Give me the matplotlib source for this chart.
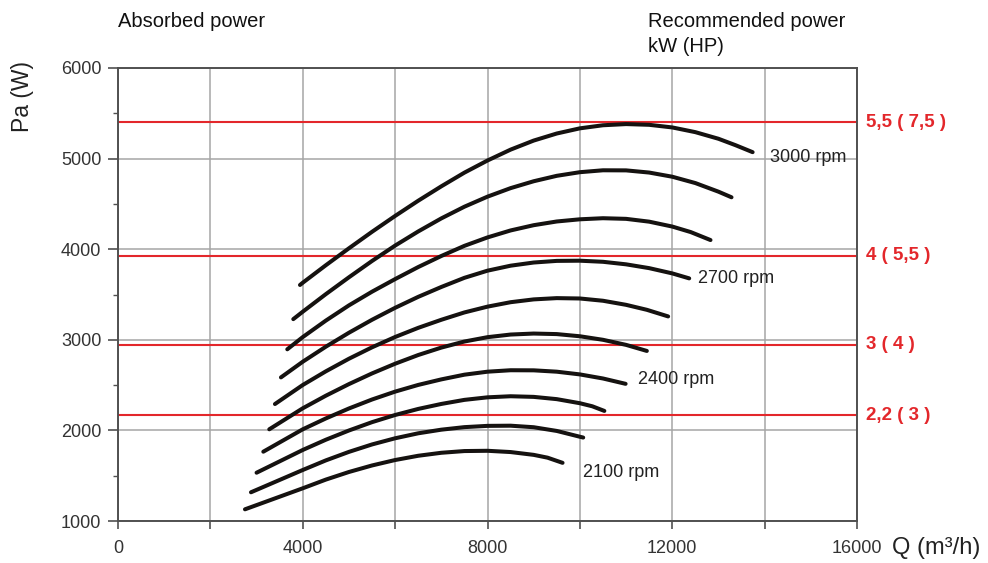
import matplotlib
matplotlib.use("Agg")
import matplotlib.pyplot as plt
from matplotlib.ticker import MultipleLocator

plt.rcParams['font.family'] = ['Liberation Sans', 'DejaVu Sans']

# fan curves, Q (m3/h) vs absorbed power (top curve = 3000 rpm)
q_c1 = [3940, 4000, 4500, 5000, 5500, 6000, 6500, 7000, 7500, 8000, 8500, 9000, 9500,
        10000, 10500, 11000, 11500, 12000, 12500, 13000, 13370, 13740]
p_c1 = [3605, 3630, 3823, 4010, 4192, 4367, 4535, 4694, 4845, 4979, 5099, 5199, 5277,
        5334, 5368, 5381, 5373, 5344, 5292, 5219, 5148, 5071]
q_c2 = [3795, 4000, 4500, 5000, 5500, 6000, 6500, 7000, 7500, 8000, 8500, 9000, 9500,
        10000, 10500, 11000, 11500, 12000, 12500, 13000, 13283]
p_c2 = [3228, 3310, 3504, 3690, 3870, 4040, 4196, 4340, 4469, 4580, 4674, 4750, 4810,
        4850, 4871, 4870, 4846, 4800, 4730, 4635, 4573]
q_c3 = [3665, 4000, 4500, 5000, 5500, 6000, 6500, 7000, 7500, 8000, 8500, 9000, 9500,
        10000, 10500, 11000, 11500, 12000, 12400, 12828]
p_c3 = [2895, 3030, 3212, 3380, 3531, 3670, 3803, 3925, 4037, 4130, 4207, 4265, 4306,
        4330, 4342, 4335, 4304, 4250, 4189, 4101]
q_c4 = [3528, 4000, 4500, 5000, 5500, 6000, 6500, 7000, 7500, 8000, 8500, 9000, 9500,
        10000, 10500, 11000, 11500, 12000, 12367]
p_c4 = [2585, 2758, 2924, 3078, 3221, 3353, 3474, 3583, 3684, 3763, 3818, 3853, 3871,
        3873, 3861, 3833, 3791, 3733, 3678]
q_c5 = [3398, 4000, 4500, 5000, 5500, 6000, 6500, 7000, 7500, 8000, 8500, 9000, 9500,
        10000, 10500, 11000, 11450, 11911]
p_c5 = [2291, 2501, 2652, 2791, 2917, 3031, 3132, 3221, 3302, 3366, 3415, 3446, 3460,
        3456, 3431, 3386, 3331, 3258]
q_c6 = [3275, 4000, 4500, 5000, 5500, 6000, 6500, 7000, 7500, 8000, 8500, 9000, 9500,
        10000, 10500, 11000, 11450]
p_c6 = [2012, 2244, 2383, 2511, 2629, 2736, 2832, 2914, 2981, 3029, 3058, 3069, 3063,
        3039, 3000, 2944, 2877]
q_c7 = [3146, 4000, 4500, 5000, 5500, 6000, 6500, 7000, 7500, 8000, 8500, 9000, 9500,
        10000, 10500, 10990]
p_c7 = [1765, 2012, 2132, 2242, 2341, 2428, 2502, 2563, 2615, 2648, 2664, 2663, 2648,
        2618, 2573, 2514]
q_c8 = [3000, 4000, 4500, 5000, 5500, 6000, 6500, 7000, 7500, 8000, 8500, 9000, 9500,
        10000, 10270, 10530]
p_c8 = [1533, 1784, 1897, 1999, 2091, 2170, 2237, 2292, 2337, 2365, 2377, 2370, 2345,
        2300, 2266, 2215]
q_c9 = [2879, 4000, 4500, 5000, 5500, 6000, 6500, 7000, 7500, 8000, 8500, 9000, 9500,
        10000, 10072]
p_c9 = [1317, 1563, 1669, 1763, 1845, 1913, 1968, 2008, 2036, 2050, 2052, 2035, 1994,
        1930, 1921]
q_c10 = [2749, 4000, 4500, 5000, 5500, 6000, 6500, 7000, 7500, 8000, 8500, 9000, 9300,
         9625]
p_c10 = [1129, 1361, 1457, 1541, 1613, 1673, 1720, 1753, 1772, 1775, 1761, 1730, 1699,
         1642]

curves = [(q_c1, p_c1), (q_c2, p_c2), (q_c3, p_c3), (q_c4, p_c4), (q_c5, p_c5),
          (q_c6, p_c6), (q_c7, p_c7), (q_c8, p_c8), (q_c9, p_c9), (q_c10, p_c10)]

# speed labels next to curve ends
rpm_labels = ["3000 rpm", "2700 rpm", "2400 rpm", "2100 rpm"]
rpm_q = [14113, 12554, 11249, 10065]
rpm_p = [5007, 3682, 2567, 1533]

# recommended motor power lines
motor_p = [5400, 3925, 2943, 2165]
motor_labels = ["5,5 ( 7,5 )", "4 ( 5,5 )", "3 ( 4 )", "2,2 ( 3 )"]

x_labelled = [0, 4000, 8000, 12000, 16000]

fig = plt.figure(figsize=(9.88, 5.63), dpi=100)
ax = fig.add_axes([118 / 988, 42 / 563, 739 / 988, 453 / 563])

ax.set_xlim(0, 16000)
ax.set_ylim(1000, 6000)

ax.xaxis.set_major_locator(MultipleLocator(2000))
ax.yaxis.set_major_locator(MultipleLocator(1000))
ax.yaxis.set_minor_locator(MultipleLocator(500))
ax.set_xticklabels([f"{int(v)}" if int(v) in x_labelled else "" for v in ax.get_xticks()])

ax.grid(True, which='major', color='#a6a6a6', lw=1.1, zorder=0)
ax.set_axisbelow(True)
for s in ax.spines.values():
    s.set_color('#505050')
    s.set_linewidth(1.4)

ax.tick_params(axis='x', which='major', direction='out', length=6, width=1.2,
               color='#505050', pad=8, labelsize=13, labelcolor='#333333')
ax.tick_params(axis='y', which='major', direction='out', length=7, width=1.2,
               color='#505050', pad=5, labelsize=13, labelcolor='#333333')
ax.tick_params(axis='y', which='minor', direction='out', length=3.5, width=1.0,
               color='#505050')

for p in motor_p:
    ax.axhline(p, color='#e3272b', lw=1.5, zorder=2)

for q, p in curves:
    ax.plot(q, p, color='#151210', lw=2.9, solid_capstyle='round',
            solid_joinstyle='round', zorder=3)

for lab, q, p in zip(rpm_labels, rpm_q, rpm_p):
    ax.text(q, p, lab, ha='left', va='center', fontsize=13, color='#222222', zorder=4)

for lab, p in zip(motor_labels, motor_p):
    ax.text(1.012, p, lab, transform=ax.get_yaxis_transform(), ha='left', va='center',
            fontsize=13.5, fontweight='bold', color='#e3272b', clip_on=False)

fig.text(118 / 988, 1 - 27 / 563, "Absorbed power", ha='left', va='baseline',
         fontsize=14.5, color='#111111')
fig.text(648 / 988, 1 - 27 / 563, "Recommended power", ha='left', va='baseline',
         fontsize=14.5, color='#111111')
fig.text(648 / 988, 1 - 52 / 563, "kW (HP)", ha='left', va='baseline',
         fontsize=14.5, color='#111111')

fig.text(23 / 988, 1 - 97 / 563, "Pa (W)", rotation=90, ha='center', va='center',
         fontsize=16.5, color='#222222')
fig.text(892 / 988, 1 - 548 / 563, "Q (m³/h)", ha='left', va='center',
         fontsize=17, color='#222222')

fig.savefig("out.png", dpi=100)
